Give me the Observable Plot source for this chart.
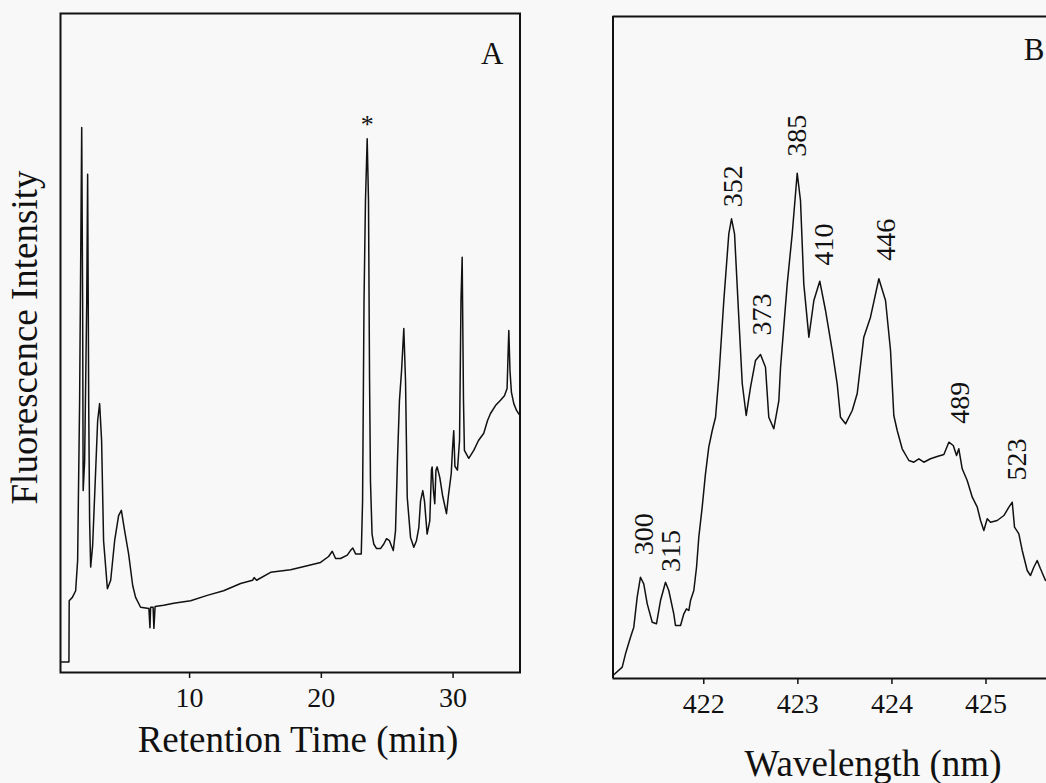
<!DOCTYPE html>
<html><head><meta charset="utf-8">
<script src="https://cdn.jsdelivr.net/npm/d3@7"></script>
<script src="https://cdn.jsdelivr.net/npm/@observablehq/plot@0.6"></script>
<style>
html,body{margin:0;padding:0;background:#f8f8f8;}
#wrap{position:relative;width:1046px;height:783px;overflow:hidden;}
#pa,#pb{position:absolute;top:0;}
#pa{left:0;} #pb{left:560px;}
</style></head><body><div id="wrap"><div id="pa"></div><div id="pb"></div></div>
<script>
// ---- Panel A: chromatogram ----
const timeA = [0.29,0.84,0.86,1.10,1.35,1.50,1.65,1.81,1.88,1.92,2.03,2.19,2.26,2.34,2.41,2.49,2.64,2.87,3.02,3.17,3.32,3.47,3.76,4.01,4.31,4.61,4.82,5.07,5.37,5.68,5.90,6.28,6.91,6.99,7.04,7.23,7.29,7.38,8.03,8.79,10.08,11.34,12.58,13.87,14.78,14.90,15.08,16.15,17.67,18.93,19.94,20.55,20.83,21.08,21.46,21.97,22.21,22.39,22.60,23.03,23.13,23.24,23.35,23.48,23.58,23.66,23.73,23.85,23.98,24.19,24.49,24.74,24.95,25.17,25.46,25.63,25.78,25.93,26.09,26.26,26.39,26.52,26.77,27.02,27.22,27.40,27.53,27.70,27.83,28.03,28.23,28.36,28.41,28.51,28.61,28.70,28.79,28.99,29.20,29.50,29.65,29.86,29.95,30.05,30.14,30.33,30.49,30.60,30.69,30.79,30.86,31.19,31.57,31.93,32.33,32.61,32.84,33.22,33.60,33.90,34.10,34.16,34.23,34.32,34.43,34.61,34.81,35.00];
const intensityA = [1.6,1.6,10.9,11.4,12.4,17,41,82.7,56,27.6,32,56,75.6,41,23,16,19.3,30.7,38.2,40.8,35.2,20,12.7,14,20,23.8,24.6,21.5,18,13.2,11.4,9.9,9.7,6.8,9.9,9.9,6.7,10,10.2,10.5,10.9,11.7,12.4,13.5,14,14.4,14,15.2,15.6,16.2,16.7,17.6,18.4,17.3,17.3,17.8,18.5,18.9,18,18,26,56.4,71.6,81,71.6,44.3,29,21,19.5,18.8,18.8,19.5,20.3,20,18.5,21.5,32.2,41.3,45.8,52.2,44.3,26.6,20.5,19,20,22,26,27.6,26,21,23,30.7,31.2,27.6,25.6,30.7,31.2,29.6,26.9,24.1,26.9,30.2,33.7,36.7,31.3,30.7,35.2,56.4,63,41.3,33.7,32.5,33.7,35.2,36.3,38.2,39.3,40.5,41.3,42,43.1,47.3,51.9,45.8,42.5,40.8,39.8,39.2];
const ticksA = [10, 20, 30];
const markedPeakTime = [23.48];
const markedPeakIntensity = [81];
const xLabelA = "Retention Time (min)";
const yLabelA = "Fluorescence Intensity";
const panelA = "A";

// ---- Panel B: spectrum ----
const wavelengthB = [421.035,421.133,421.168,421.221,421.256,421.292,421.327,421.362,421.399,421.452,421.497,421.540,421.593,421.628,421.681,421.699,421.753,421.788,421.816,421.841,421.859,421.894,421.923,421.947,421.983,422.018,422.053,422.090,422.125,422.160,422.213,422.266,422.295,422.327,422.372,422.409,422.451,422.497,422.550,422.603,422.656,422.691,422.744,422.798,422.816,422.887,422.940,422.993,423.028,423.063,423.117,423.170,423.233,423.294,423.365,423.418,423.453,423.507,423.578,423.631,423.701,423.772,423.861,423.932,423.985,424.020,424.056,424.109,424.180,424.233,424.286,424.339,424.410,424.481,424.552,424.605,424.652,424.687,424.711,424.747,424.800,424.854,424.907,424.942,424.977,425.013,425.048,425.119,425.190,425.243,425.279,425.303,425.349,425.385,425.438,425.473,425.508,425.544,425.579,425.632];
const intensityB = [0.45,1.71,3.73,6.24,7.75,12.28,15.30,14.30,11.28,8.50,8.26,11.78,14.55,13.29,9.77,8.01,8.01,9.77,10.53,10.27,11.78,13.29,16.81,21.34,25.88,30.92,34.94,37.46,39.47,45.51,57.10,67.17,69.44,67.17,54.58,44.52,39.73,44.00,48.04,48.94,47.02,39.47,37.72,41.99,47.02,59.62,67.17,76.33,72.21,59.62,51.56,57.10,60.02,55.59,49.55,44.52,39.47,38.47,40.48,43.05,51.56,54.58,60.38,57.10,49.55,39.73,37.46,34.70,32.93,32.67,33.19,32.67,33.19,33.53,33.84,35.70,35.20,33.69,34.70,31.68,29.91,27.39,25.88,23.87,22.36,24.12,23.61,23.87,24.62,25.88,26.63,22.86,21.86,19.34,16.31,15.56,16.81,17.82,16.57,14.80];
const ticksB = [422, 423, 424, 425];
const peakLabels = ["300","315","352","373","385","410","446","489","523"];
const peakLabelWl = [421.370,421.657,422.311,422.614,422.986,423.273,423.932,424.729,425.335];
const peakLabelI = [18.6,16.1,71.2,51.8,78.8,62.4,63.1,38.5,29.9];
const xLabelB = "Wavelength (nm)";
const panelB = "B";

const serif = "'Liberation Serif','Times New Roman',serif";
const ink = "#111";
const H = 783;

const dataA = timeA.map((t, i) => ({t, v: intensityA[i]}));
const starA = markedPeakTime.map((t, i) => ({t, v: markedPeakIntensity[i]}));

const plotA = Plot.plot({
  width: 540, height: H,
  marginLeft: 60, marginRight: 20.5, marginTop: 13, marginBottom: H - 672,
  style: {background: "transparent", fontFamily: serif, color: ink},
  x: {domain: [0.2, 35.08]},
  y: {domain: [0, 100], axis: null},
  marks: [
    Plot.frame({stroke: ink, strokeWidth: 2}),
    Plot.axisX(ticksA, {tickSize: 6, tickPadding: 9, fontSize: 28, label: null, strokeWidth: 1.5}),
    Plot.line(dataA, {x: "t", y: "v", stroke: ink, strokeWidth: 1.5}),
    Plot.text(starA, {x: "t", y: "v", text: () => "*", dy: -6, lineAnchor: "bottom", fontSize: 26}),
    Plot.text([yLabelA], {frameAnchor: "left", textAnchor: "middle", dx: -35, dy: -5.5, rotate: -90, lineAnchor: "middle", fontSize: 37}),
    Plot.text([xLabelA], {frameAnchor: "bottom", textAnchor: "middle", dx: 7.75, dy: 79, lineAnchor: "bottom", fontSize: 37}),
    Plot.text([panelA], {frameAnchor: "top-right", textAnchor: "end", dx: -16.5, dy: 50, lineAnchor: "bottom", fontSize: 31})
  ]
});
document.getElementById("pa").appendChild(plotA);

const dataB = wavelengthB.map((w, i) => ({w, v: intensityB[i]}));
const labelsB = peakLabels.map((s, i) => ({s, w: peakLabelWl[i], v: peakLabelI[i]}));

const plotB = Plot.plot({
  width: 486, height: H,
  marginLeft: 52.5, marginRight: 0, marginTop: 16, marginBottom: H - 678,
  style: {background: "transparent", fontFamily: serif, color: ink},
  x: {domain: [421.035, 425.643]},
  y: {domain: [0, 100], axis: null},
  marks: [
    Plot.ruleX([421.035], {stroke: ink, strokeWidth: 2}),
    Plot.ruleY([0, 100], {stroke: ink, strokeWidth: 2}),
    Plot.axisX(ticksB, {tickSize: 6, tickPadding: 9, fontSize: 28, label: null, strokeWidth: 1.5}),
    Plot.line(dataB, {x: "w", y: "v", stroke: ink, strokeWidth: 1.5}),
    Plot.text(labelsB, {x: "w", y: "v", text: "s", rotate: -90, textAnchor: "start", lineAnchor: "middle", fontSize: 28}),
    Plot.text([xLabelB], {frameAnchor: "bottom", textAnchor: "middle", dx: 43.25, dy: 97, lineAnchor: "bottom", fontSize: 37}),
    Plot.text([panelB], {frameAnchor: "top-right", textAnchor: "end", dx: -2, dy: 43, lineAnchor: "bottom", fontSize: 31})
  ]
});
document.getElementById("pb").appendChild(plotB);
</script>
</body></html>
